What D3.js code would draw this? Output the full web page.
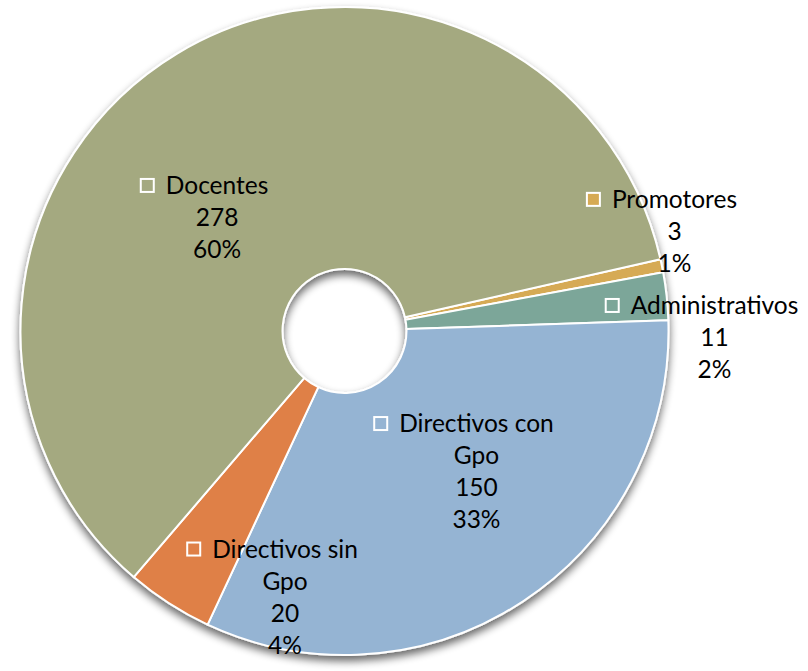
<!DOCTYPE html>
<html>
<head>
<meta charset="utf-8">
<script src="https://cdn.jsdelivr.net/npm/d3@7"></script>
<style>
  html, body { margin: 0; padding: 0; background: #ffffff; }
  svg { display: block; }
  text { font-family: "Lato", "Open Sans", sans-serif; }
</style>
</head>
<body>
<svg id="chart" width="808" height="671"></svg>
<script>
// ---- data (clockwise order as drawn) ----
const categories = ["Promotores", "Administrativos", "Directivos con Gpo", "Directivos sin Gpo", "Docentes"];
const labelLines = [["Promotores"], ["Administrativos"], ["Directivos con", "Gpo"], ["Directivos sin", "Gpo"], ["Docentes"]];
const values = [3, 11, 150, 20, 278];
const percentLabels = ["1%", "2%", "33%", "4%", "60%"];
const colors = ["#D6AA54", "#7BA699", "#95B4D3", "#DF8047", "#A4A980"];

// ---- layout ----
const W = 808, H = 671;
const cx = 344.5, cy = 331;
const outerR = 324, innerR = 62;
const startDeg = 77.2;
// label anchors (polar: degrees clockwise from 12 o'clock, radius)
const labelAngles = [73.2, 91.0, 136.8, 192.6, -48.3];
const labelRadii = [344.7, 370.1, 192.8, 272.6, 170.7];
const fontSize = 24.5, lineH = 32, capH = 17, keySize = 13, keyGap = 12;

const svg = d3.select("#chart");
const defs = svg.append("defs");
const f = defs.append("filter").attr("id", "shadow")
  .attr("x", "-20%").attr("y", "-20%").attr("width", "140%").attr("height", "140%");
f.append("feGaussianBlur").attr("in", "SourceAlpha").attr("stdDeviation", 4).attr("result", "b");
f.append("feOffset").attr("in", "b").attr("dx", 0).attr("dy", 5).attr("result", "o");
f.append("feComponentTransfer").attr("in", "o").attr("result", "s")
  .append("feFuncA").attr("type", "linear").attr("slope", 0.6);
const m = f.append("feMerge");
m.append("feMergeNode").attr("in", "s");
m.append("feMergeNode").attr("in", "SourceGraphic");

const rad = d => d * Math.PI / 180;
const pie = d3.pie().sort(null).value(d => d.value)
  .startAngle(rad(startDeg)).endAngle(rad(startDeg + 360));
const data = categories.map((c, i) => ({ cat: c, value: values[i], color: colors[i], i }));
const arcs = pie(data);
const arc = d3.arc().innerRadius(innerR).outerRadius(outerR);

const g = svg.append("g").attr("transform", `translate(${cx},${cy})`);
g.append("g").attr("filter", "url(#shadow)")
  .selectAll("path").data(arcs).join("path")
  .attr("d", arc)
  .attr("fill", d => d.data.color)
  .attr("stroke", "#ffffff")
  .attr("stroke-width", 2)
  .attr("stroke-linejoin", "round");

// labels
const lg = g.append("g");
arcs.forEach((a, i) => {
  const ang = rad(labelAngles[i]), r = labelRadii[i];
  const x = r * Math.sin(ang), y = -r * Math.cos(ang);
  const lines = labelLines[i].concat([String(values[i]), percentLabels[i]]);
  const firstBase = y - (lines.length - 1) * lineH / 2 + capH / 2;
  const t = lg.append("text")
    .attr("text-anchor", "middle")
    .attr("font-size", fontSize)
    .attr("fill", "#000");
  lines.forEach((ln, k) => {
    t.append("tspan").attr("x", x).attr("y", firstBase + k * lineH).text(ln);
  });
  // legend key square to the left of the first line
  const first = t.select("tspan").node();
  const w = first.getComputedTextLength();
  lg.append("rect")
    .attr("x", x - w / 2 - keyGap - keySize)
    .attr("y", firstBase - 2 - keySize)
    .attr("width", keySize).attr("height", keySize)
    .attr("fill", a.data.color)
    .attr("stroke", "#ffffff").attr("stroke-width", 2);
});
</script>
</body>
</html>
